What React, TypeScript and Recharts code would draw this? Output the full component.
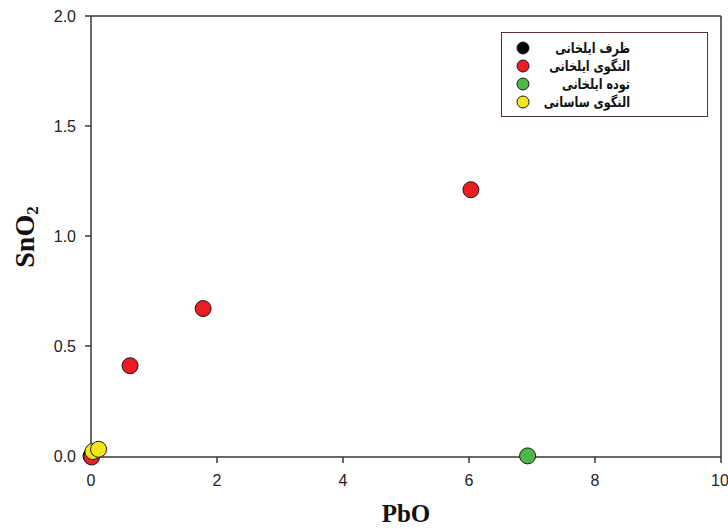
import React from 'react';
import { ScatterChart, Scatter, XAxis, YAxis, ReferenceLine } from 'recharts';

const seriesNames = ['ظرف ایلخانی', 'النگوی ایلخانی', 'توده ایلخانی', 'النگوی ساسانی'];
const seriesColors = ['#000000', '#ec1c24', '#4db848', '#f3e71c'];

const vesselIlkhanid = [{ x: 0, y: 0 }];
const bangleIlkhanid = [
  { x: 0.01, y: -0.005 },
  { x: 0.62, y: 0.41 },
  { x: 1.78, y: 0.67 },
  { x: 6.03, y: 1.21 },
];
const lumpIlkhanid = [{ x: 6.93, y: 0 }];
const bangleSasanian = [
  { x: 0.03, y: 0.02 },
  { x: 0.12, y: 0.03 },
];
const seriesData = [vesselIlkhanid, bangleIlkhanid, lumpIlkhanid, bangleSasanian];

const xTicks = [0, 2, 4, 6, 8, 10];
const yTicks = [0, 0.5, 1, 1.5, 2];

const axisColor = '#3a3535';
const tickStyle = { fontFamily: '"Liberation Sans", Arial, sans-serif', fontSize: 16, fill: '#222' };
const titleStyle = { fontFamily: '"Liberation Serif", "Times New Roman", serif', fontWeight: 'bold', fontSize: 25, fill: '#111' };

const Dot = (color: string) => (p: any) => (
  <circle cx={p.cx} cy={p.cy} r={8} fill={color} stroke="#1a1a1a" strokeWidth={1} />
);

const LegendBox = () => (
  <div
    style={{
      position: 'absolute',
      left: 501,
      top: 32,
      width: 207,
      height: 85,
      border: '1.5px solid #5a3030',
      background: '#fff',
      boxSizing: 'border-box',
      paddingTop: 6,
    }}
  >
    {seriesNames.map((name, i) => (
      <div key={name} style={{ display: 'flex', alignItems: 'center', height: 18 }}>
        <svg width={44} height={18} style={{ flex: 'none' }}>
          <circle cx={21} cy={9} r={6} fill={seriesColors[i]} stroke="#1a1a1a" strokeWidth={1} />
        </svg>
        <div
          style={{
            width: 84,
            textAlign: 'right',
            direction: 'rtl',
            whiteSpace: 'nowrap',
            fontFamily: '"DejaVu Sans", sans-serif',
            fontWeight: 'bold',
            fontSize: 14,
            color: '#111',
            lineHeight: '18px',
            transform: 'scaleX(0.8)',
            transformOrigin: 'right center',
          }}
        >
          {name}
        </div>
      </div>
    ))}
  </div>
);

const YLabel = () => (
  <text
    transform="translate(24,237) rotate(-90)"
    textAnchor="middle"
    dominantBaseline="central"
    style={{ ...titleStyle, fontSize: 28 }}
  >
    SnO<tspan fontSize={17} dy={8}>2</tspan>
  </text>
);

export default function App() {
  return (
    <div style={{ position: 'absolute', left: 0, top: 0, width: 728, height: 529, background: '#fff' }}>
      <ScatterChart width={728} height={529} margin={{ top: 16, right: 7, bottom: 42, left: 0 }}>
        <XAxis
          type="number"
          dataKey="x"
          domain={[0, 10]}
          ticks={xTicks}
          tickSize={6}
          tickMargin={12}
          tick={tickStyle}
          stroke={axisColor}
          strokeWidth={1.5}
          label={{ value: 'PbO', position: 'insideBottom', offset: -35, style: titleStyle }}
        />
        <YAxis
          type="number"
          dataKey="y"
          domain={[0, 2]}
          ticks={yTicks}
          width={91}
          tickSize={6}
          tickMargin={9}
          tick={tickStyle}
          tickFormatter={(v: number) => v.toFixed(1)}
          stroke={axisColor}
          strokeWidth={1.5}
          label={<YLabel />}
        />
        <ReferenceLine y={2} stroke={axisColor} strokeWidth={1.5} />
        <ReferenceLine x={10} stroke={axisColor} strokeWidth={1.5} />
        {seriesData.map((d, i) => (
          <Scatter
            key={seriesNames[i]}
            name={seriesNames[i]}
            data={d}
            fill={seriesColors[i]}
            shape={Dot(seriesColors[i])}
            isAnimationActive={false}
          />
        ))}
      </ScatterChart>
      <LegendBox />
    </div>
  );
}
